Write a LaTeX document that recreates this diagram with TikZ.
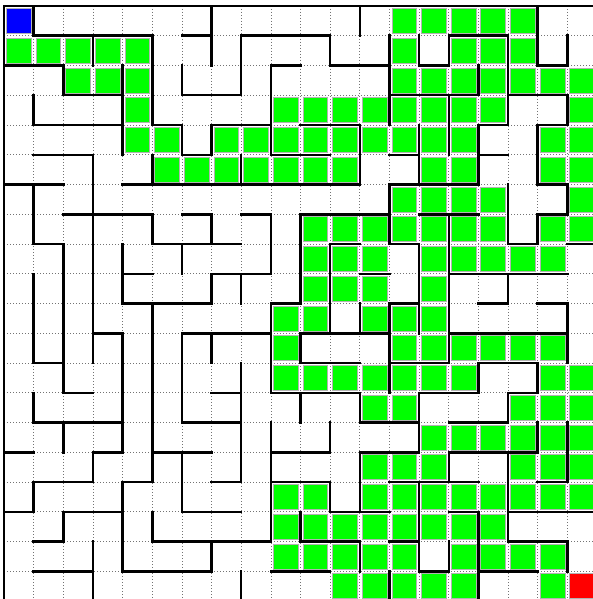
\documentclass[tikz,border=0pt]{standalone}
\begin{document}
\begin{tikzpicture}[x=29.65pt,y=-29.75pt,
  wall/.style={line width=2.5pt,line cap=rect,black},
  gridline/.style={black!55,line width=0.7pt,dash pattern=on 0.9pt off 2.1pt},
  pathcell/.style={fill=green,draw=gray!60,line width=0.5pt},
  startcell/.style={fill=blue,draw=gray!60,line width=0.5pt},
  goalcell/.style={fill=red,draw=gray!60,line width=0.5pt}]
\useasboundingbox (-4pt,6pt) rectangle (588pt,-593pt);
\fill[white] (-4pt,6pt) rectangle (588pt,-593pt);
\foreach \i in {1,...,19} \draw[gridline] (\i,0) -- (\i,20);
\foreach \j in {1,...,19} \draw[gridline] (0,\j) -- (20,\j);
\foreach \r/\cs in {0/{13,14,15,16,17},
  1/{0,1,2,3,4,13,15,16,17},
  2/{2,3,4,13,14,15,16,17,18,19},
  3/{4,9,10,11,12,13,14,15,16,19},
  4/{4,5,7,8,9,10,11,12,13,14,15,18,19},
  5/{5,6,7,8,9,10,11,14,15,18,19},
  6/{13,14,15,16,19},
  7/{10,11,12,13,14,15,16,18,19},
  8/{10,11,12,14,15,16,17,18},
  9/{10,11,12,14},
  10/{9,10,12,13,14},
  11/{9,13,14,15,16,17,18},
  12/{9,10,11,12,13,14,15,18,19},
  13/{12,13,17,18,19},
  14/{14,15,16,17,18,19},
  15/{12,13,14,17,18,19},
  16/{9,10,12,13,14,15,16,17,18,19},
  17/{9,10,11,12,13,14,15,16},
  18/{9,10,11,12,13,15,16,17,18},
  19/{11,12,13,14,15,18}}
  \foreach \c in \cs
    \path[pathcell] ([xshift=2.3pt,yshift=-2.3pt]\c,\r) rectangle ([xshift=-2.6pt,yshift=2.4pt]{\c+1},{\r+1});
\path[startcell] ([xshift=2.3pt,yshift=-2.3pt]0,0) rectangle ([xshift=-2.6pt,yshift=2.4pt]1,1);
\path[goalcell] ([xshift=2.3pt,yshift=-2.3pt]19,19) rectangle ([xshift=-2.6pt,yshift=2.4pt]20,20);
\foreach \j/\a/\b in {0/0/20,
  1/1/5, 1/6/7, 1/8/11, 1/15/17,
  2/0/2, 2/9/10, 2/11/13, 2/14/15, 2/18/19,
  3/2/4, 3/6/8, 3/13/16, 3/17/19,
  4/1/4, 4/5/6, 4/7/9, 4/10/12, 4/16/17, 4/18/19,
  5/1/3, 5/6/7, 5/9/11, 5/13/14, 5/16/17,
  6/0/2, 6/4/12, 6/13/16, 6/18/19,
  7/2/5, 7/6/7, 7/8/9, 7/10/13, 7/14/16, 7/18/19,
  8/1/2, 8/5/8, 8/11/12, 8/13/14, 8/17/18, 8/19/20,
  9/4/5, 9/7/9, 9/12/13, 9/15/19,
  10/4/7, 10/9/10, 10/13/14, 10/16/17, 10/18/19,
  11/3/4, 11/6/9, 11/10/13, 11/15/19,
  12/1/2, 12/10/12, 12/13/15, 12/16/18,
  13/2/3, 13/7/8, 13/9/12, 13/14/16, 13/17/18,
  14/1/4, 14/6/8, 14/12/14, 14/15/17,
  15/0/1, 15/3/4, 15/5/7, 15/9/11, 15/12/14, 15/15/18,
  16/1/3, 16/4/5, 16/7/8, 16/9/11, 16/13/16, 16/18/19,
  17/0/1, 17/2/4, 17/6/8, 17/11/13, 17/15/16, 17/17/20,
  18/1/2, 18/5/9, 18/10/12, 18/13/14, 18/17/19,
  19/1/3, 19/4/7, 19/9/11, 19/14/15, 19/16/18,
  20/0/20}
  \draw[wall] (\a,\j) -- (\b,\j);
\foreach \i/\a/\b in {0/0/20,
  1/0/1, 1/3/4, 1/6/8, 1/9/12, 1/13/14, 1/16/17,
  2/2/3, 2/8/13, 2/14/15, 2/17/18,
  3/1/2, 3/5/12, 3/15/16, 3/18/20,
  4/2/5, 4/8/10, 4/11/15, 4/16/19,
  5/1/4, 5/5/6, 5/7/8, 5/10/16, 5/17/18,
  6/2/3, 6/4/5, 6/8/9, 6/11/14, 6/15/17,
  7/0/2, 7/4/5, 7/7/8, 7/9/10, 7/11/12, 7/18/19,
  8/1/3, 8/5/6, 8/9/10, 8/12/16, 8/19/20,
  9/2/5, 9/7/9, 9/10/13, 9/14/18,
  10/7/10, 10/11/12, 10/13/14, 10/17/18,
  11/1/2, 11/8/11, 11/14/15, 11/16/17,
  12/0/1, 12/4/6, 12/10/11, 12/13/14, 12/15/17, 12/18/19,
  13/1/4, 13/6/8, 13/10/13, 13/19/20,
  14/1/2, 14/4/6, 14/8/11, 14/13/15, 14/16/19,
  15/1/2, 15/3/5, 15/7/12, 15/15/16, 15/18/19,
  16/2/3, 16/4/6, 16/12/13, 16/17/20,
  17/1/4, 17/6/8, 17/9/10, 17/13/14, 17/15/18,
  18/0/2, 18/4/6, 18/7/8, 18/12/13, 18/14/15,
  19/1/2, 19/3/4, 19/6/7, 19/10/12, 19/14/16, 19/18/19,
  20/0/20}
  \draw[wall] (\i,\a) -- (\i,\b);
\end{tikzpicture}
\end{document}
